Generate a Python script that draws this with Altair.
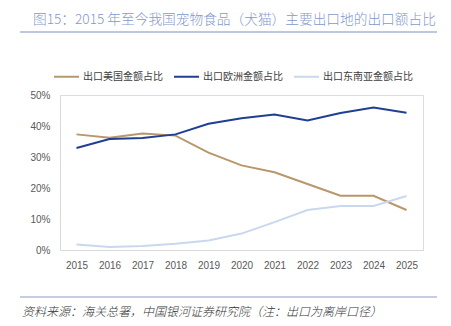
import altair as alt
import pandas as pd

years = [str(y) for y in range(2015, 2026)]
series_names = ["出口美国金额占比", "出口欧洲金额占比", "出口东南亚金额占比"]
us = [37.3, 36.2, 37.6, 36.9, 31.4, 27.3, 25.1, 21.3, 17.5, 17.5, 12.9]
eu = [32.9, 35.8, 36.1, 37.3, 40.7, 42.5, 43.7, 41.8, 44.2, 46.0, 44.3]
sea = [1.8, 1.0, 1.3, 2.0, 3.1, 5.3, 9.0, 12.9, 14.2, 14.2, 17.4]
colors = ["#B8976A", "#1F3F94", "#C9D8EE"]

title_text = "图15：2015 年至今我国宠物食品（犬猫）主要出口地的出口额占比"
footer_text = "资料来源：海关总署，中国银河证券研究院（注：出口为离岸口径）"

rows = []
for name, vals in zip(series_names, [us, eu, sea]):
    for y, v in zip(years, vals):
        rows.append({"year": y, "series": name, "value": v / 100})
df = pd.DataFrame(rows)

FONT = "Noto Sans CJK SC"

lines = alt.Chart(df).mark_line(strokeWidth=2).encode(
    x=alt.X("year:N", sort=years,
            scale=alt.Scale(type="point", padding=0.5),
            axis=alt.Axis(title=None, labelAngle=0, ticks=False, domainColor="#D9D9D9",
                          labelColor="#595959", labelFontSize=10, labelFont="Liberation Sans",
                          labelPadding=10)),
    y=alt.Y("value:Q", scale=alt.Scale(domain=[0, 0.5]),
            axis=alt.Axis(title=None, format=".0%", values=[0, 0.1, 0.2, 0.3, 0.4, 0.5],
                          ticks=False, grid=False, domainColor="#D9D9D9",
                          labelColor="#595959", labelFontSize=10, labelFont="Liberation Sans",
                          labelPadding=10)),
    color=alt.Color("series:N", sort=series_names,
                    scale=alt.Scale(domain=series_names, range=colors),
                    legend=alt.Legend(title=None, orient="none", direction="horizontal",
                                      legendX=-7, legendY=-32, symbolType="stroke",
                                      symbolSize=625, symbolStrokeWidth=2,
                                      labelFont=FONT, labelFontSize=10, labelColor="#404040",
                                      gridAlign="all", columnPadding=-7, labelOffset=3)),
)

title = alt.Chart(pd.DataFrame({"t": [title_text]})).mark_text(
    align="left", baseline="middle", font=FONT, fontSize=13.7, fontWeight=300, color="#8498CC"
).encode(text="t:N", x=alt.value(-27), y=alt.value(-75))

title_rule = alt.Chart(pd.DataFrame({"a": [0]})).mark_rule(color="#7B8FC8", strokeWidth=1.2).encode(
    x=alt.value(-40), x2=alt.value(377), y=alt.value(-63))

footer_rule = alt.Chart(pd.DataFrame({"a": [0]})).mark_rule(color="#8A9CCB", strokeWidth=1.2).encode(
    x=alt.value(-40), x2=alt.value(377), y=alt.value(202))

footer = alt.Chart(pd.DataFrame({"t": [footer_text]})).mark_text(
    align="left", baseline="middle", font=FONT, fontSize=12, fontStyle="italic", fontWeight=300,
    color="#333333"
).encode(text="t:N", x=alt.value(-38), y=alt.value(217))

chart = alt.layer(lines, title, title_rule, footer_rule, footer).properties(
    width=363, height=155,
    padding={"left": 60, "top": 95, "right": 28, "bottom": 76},
    autosize=alt.AutoSizeParams(type="none"),
).configure_view(stroke=None).configure(background="white")

chart.save("out.html", embed_options={"renderer": "svg", "actions": False})
